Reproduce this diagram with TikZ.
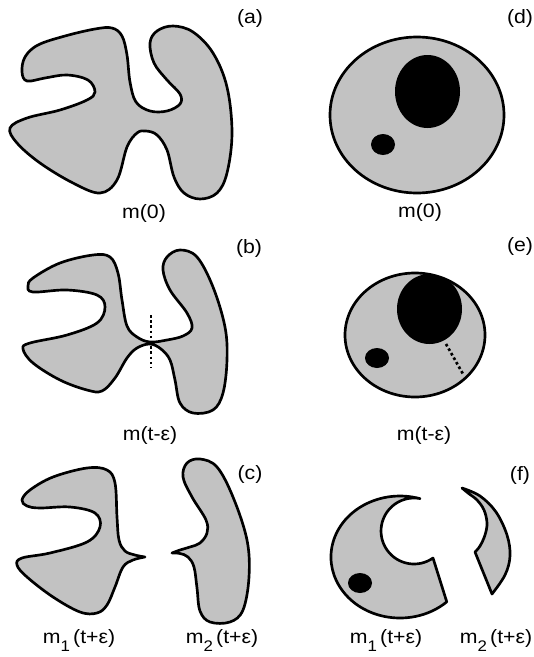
\documentclass[tikz,border=0pt]{standalone}
\usepackage{fontspec}
\setmainfont{Liberation Sans}[FakeStretch=1.1]
\begin{document}
\begin{tikzpicture}[x=0.75pt,y=-0.75pt,
  blob/.style={draw=black, fill=black!24, line width=2pt, line join=round},
  grayfill/.style={fill=black!24},
  outline/.style={draw=black, line width=2pt},
  blk/.style={fill=black},
  dotln/.style={line width=2pt, dash pattern=on 2pt off 1.9pt},
  lbl/.style={font=\fontsize{14.5}{16}\selectfont, inner sep=0pt, anchor=base},
  plbl/.style={font=\fontsize{14.5}{16}\selectfont, inner sep=0pt, anchor=center}]
\useasboundingbox (0,0) rectangle (534,657);
\newcommand{\subdig}[1]{\raisebox{-6.3pt}{\fontsize{11.5}{12}\selectfont #1}}

% ---------- (a) ----------
\draw[blob] plot[smooth cycle, tension=0.6] coordinates {
 (27,81) (22,72) (25,57) (38,45) (65,36) (95,29) (112,28) (122,36) (127,55)
 (130,82) (136,102) (150,111) (167,111) (180,104) (180,94) (167,80) (154,63)
 (150,43) (157,31) (173,26) (193,32) (213,53) (227,87) (232,133) (227,173)
 (217,193) (200,199) (184,193) (174,177) (167,150) (157,135) (146,131)
 (137,133) (127,147) (117,180) (100,193) (73,183) (40,163) (17,143) (10,128)
 (27,118) (60,110) (87,100) (95,92) (88,80) (67,75) (45,78)};
\node[plbl] (la) at (250,18) {(a)};
\node[lbl] (ma) at (144,218) {m(0)};

% ---------- (b) ----------
\draw[blob] plot[smooth cycle, tension=0.6] coordinates {
 (33,292) (28,286) (33,278) (60,263) (93,255) (110,257) (118,273) (122,300)
 (127,326) (137,337) (150,342) (167,340) (183,336) (192,328) (187,313)
 (170,290) (163,270) (167,257) (180,250) (197,257) (213,287) (225,327)
 (227,360) (223,393) (213,410) (193,413) (180,403) (175,380) (170,360)
 (161,349) (150,344) (137,348) (127,358) (115,378) (102,391) (87,390)
 (60,380) (33,363) (23,349) (30,343) (67,335) (97,323) (105,307) (97,295)
 (67,290)};
\coordinate (bd1) at (151,315);
\coordinate (bd2) at (151,368);
\draw[dotln] (bd1) -- (bd2);
\node[plbl] (lb) at (249,248) {(b)};
\node[lbl] (mb) at (150,440) {m(t-ε)};

% ---------- (c) ----------
\draw[blob] plot[smooth, tension=0.6] coordinates {
 (145,557) (135,555) (125,551) (119,540) (117,517) (115,483) (107,470)
 (87,468) (53,477) (30,490) (22,500) (27,506) (40,508) (70,507) (95,513)
 (100,527) (87,542) (50,553) (22,558) (17,565) (27,577) (53,597) (80,612)
 (97,613) (107,605) (115,587) (123,567) (133,560) (145,557)} -- cycle;
\draw[blob] plot[smooth, tension=0.6] coordinates {
 (172,553) (180,550) (190,547) (200,543) (207,533) (206,520) (192,497)
 (183,477) (187,463) (200,459) (217,467) (233,497) (247,540) (249,577)
 (243,610) (230,622) (210,622) (200,611) (197,588) (194,567) (188,557)
 (180,553.5) (172,553)} -- cycle;
\node[plbl] (lc) at (250,474) {(c)};
\node[lbl] (mc1) at (79,643) {m\subdig{1}\,(t+ε)};
\node[lbl] (mc2) at (222,643) {m\subdig{2}\,(t+ε)};

% ---------- (d) ----------
\draw[blob] (417,115) ellipse [x radius=87, y radius=78];
\fill[blk] (427.5,91.5) ellipse [x radius=32.5, y radius=36.5];
\fill[blk] (383,144.5) ellipse [x radius=12, y radius=10.5];
\node[plbl] (ld) at (520,18) {(d)};
\node[lbl] (md) at (420,217) {m(0)};

% ---------- (e) ----------
\fill[grayfill] (415,335) ellipse [x radius=70, y radius=62];
\begin{scope}
  \clip (415,335) ellipse [x radius=70, y radius=62];
  \fill[blk] (429.5,309) ellipse [x radius=32.5, y radius=35];
\end{scope}
\fill[blk] (377,358) ellipse [x radius=12, y radius=10];
\draw[outline] (415,335) ellipse [x radius=70, y radius=62];
\coordinate (ed1) at (446,344);
\coordinate (ed2) at (463,374);
\draw[dotln] (ed1) -- (ed2);
\node[plbl] (le) at (520,246) {(e)};
\node[lbl] (me) at (424,440) {m(t-ε)};

% ---------- (f) ----------
\draw[blob] (419.8,498.6) arc[start angle=-73.3, end angle=-312.7, x radius=69, y radius=61]
  -- (433,558) arc[start angle=54.9, end angle=280.3, radius=33] -- cycle;
\fill[blk] (360,583) ellipse [x radius=12, y radius=10];
\draw[blob] plot[smooth, tension=0.6] coordinates {
 (462,488) (480,496) (496,512) (507,535) (510,556) (505,575) (492,594)}
 -- plot[smooth, tension=0.6] coordinates {
 (475,552) (480,546) (485,535) (487,523) (484,510) (477,500) (468,493) (462,488)} -- cycle;
\node[plbl] (lf) at (520,475) {(f)};
\node[lbl] (mf1) at (386,643) {m\subdig{1}\,(t+ε)};
\node[lbl] (mf2) at (496,643) {m\subdig{2}\,(t+ε)};
\end{tikzpicture}
\end{document}
